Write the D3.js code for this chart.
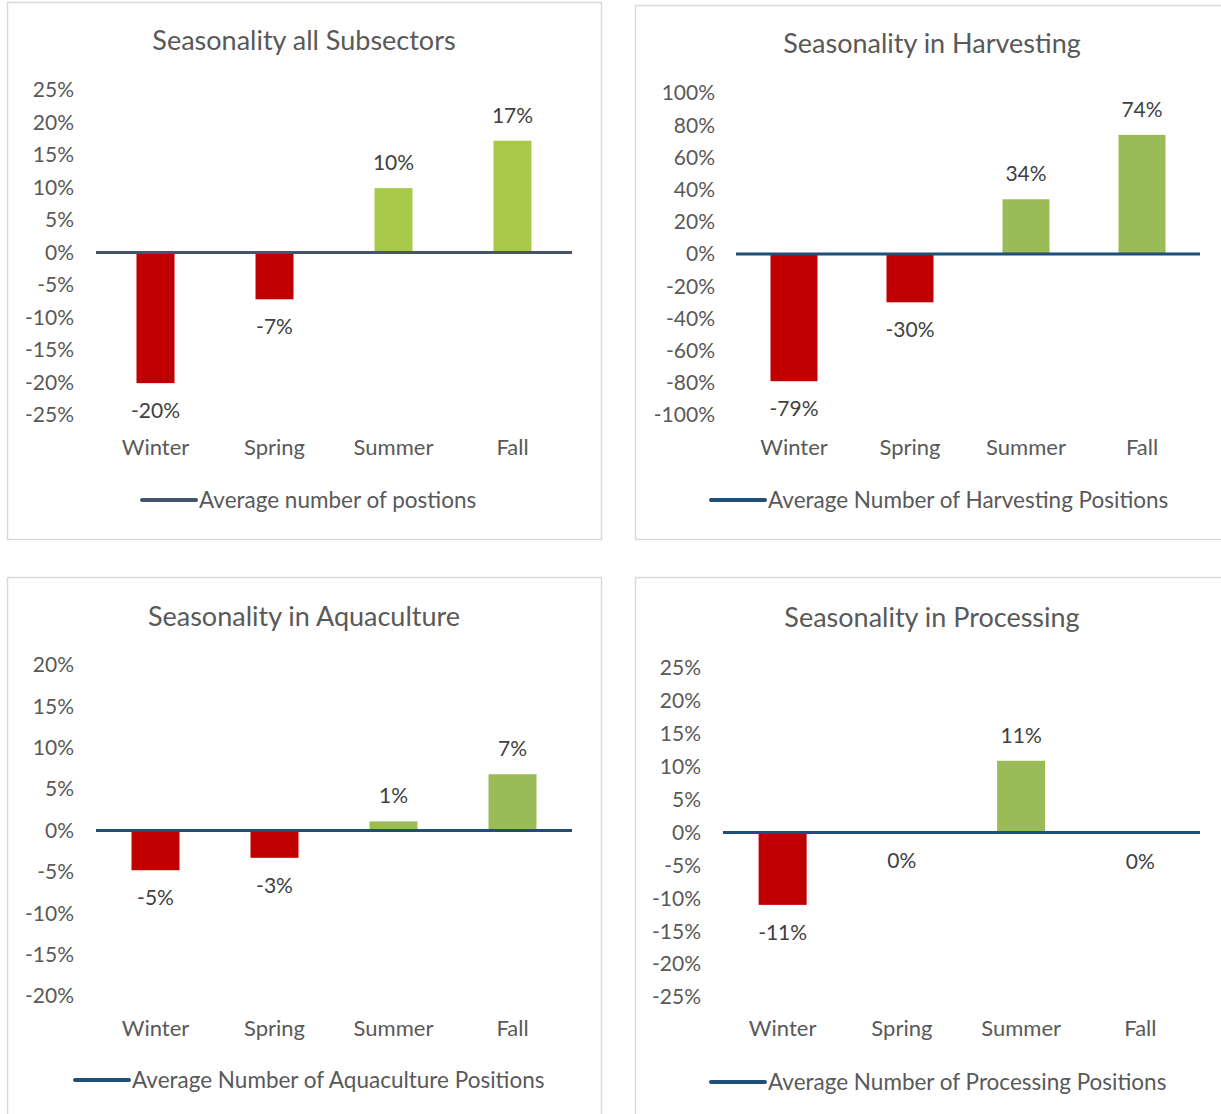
<!DOCTYPE html>
<html>
<head>
<meta charset="utf-8">
<script src="https://cdn.jsdelivr.net/npm/d3@7"></script>
<style>
  body { margin: 0; background: #fff; }
  svg { display: block; font-family: Lato, 'Open Sans', sans-serif; }
  .tick-label { fill: #595959; font-size: 21px; }
  .cat-label { fill: #595959; font-size: 22px; }
  .title { fill: #595959; font-size: 27px; }
  .value-label { fill: #404040; font-size: 21px; }
  .legend-text { fill: #595959; font-size: 22.5px; }
</style>
</head>
<body>
<div id="chart"></div>
<script>
// categories, shared by all four charts
var seasons = ['Winter', 'Spring', 'Summer', 'Fall']

// values in percent
var allValues = [-20.1, -7.2, 9.9, 17.2]
var harvestValues = [-79, -30, 34, 74]
var aquaValues = [-4.8, -3.3, 1.1, 6.8]
var procValues = [-11, -0.1, 10.9, -0.2]

// y axis ticks
var allTicks = [25, 20, 15, 10, 5, 0, -5, -10, -15, -20, -25]
var harvestTicks = [100, 80, 60, 40, 20, 0, -20, -40, -60, -80, -100]
var aquaTicks = [20, 15, 10, 5, 0, -5, -10, -15, -20]
var procTicks = [25, 20, 15, 10, 5, 0, -5, -10, -15, -20, -25]

var titles = ['Seasonality all Subsectors', 'Seasonality in Harvesting',
  'Seasonality in Aquaculture', 'Seasonality in Processing']
var legends = ['Average number of postions', 'Average Number of Harvesting Positions',
  'Average Number of Aquaculture Positions', 'Average Number of Processing Positions']

var RED = '#C00000'

var width = 1221
var height = 1114

var svg = d3.select('#chart')
  .append('svg')
  .attr('width', width)
  .attr('height', height)

// layout of each panel (absolute pixels)
var panels = [
  {
    title: titles[0], legend: legends[0], values: allValues, ticks: allTicks,
    box: [7, 2, 594, 537], titleX: 304, titleY: 50, x0: 96, x1: 572, yTop: 90, yBot: 415,
    tickX: 74, catY: 455, legY: 500, legX: 142, barW: 38,
    green: '#A9C94B', line: '#44546A'
  },
  {
    title: titles[1], legend: legends[1], values: harvestValues, ticks: harvestTicks,
    box: [635, 5, 600, 534], titleX: 932, titleY: 53, x0: 736, x1: 1200, yTop: 93, yBot: 415,
    tickX: 715, catY: 455, legY: 500, legX: 711, barW: 47,
    green: '#9BBB59', line: '#1F4E79'
  },
  {
    title: titles[2], legend: legends[2], values: aquaValues, ticks: aquaTicks,
    box: [7, 577, 594, 560], titleX: 304, titleY: 626, x0: 96, x1: 572, yTop: 665, yBot: 996,
    tickX: 74, catY: 1036, legY: 1080, legX: 75, barW: 48,
    green: '#9BBB59', line: '#1F4E79'
  },
  {
    title: titles[3], legend: legends[3], values: procValues, ticks: procTicks,
    box: [635, 577, 600, 560], titleX: 932, titleY: 627, x0: 723, x1: 1200, yTop: 668, yBot: 997,
    tickX: 701, catY: 1036, legY: 1082, legX: 711, barW: 48,
    green: '#9BBB59', line: '#1F4E79'
  }
]

panels.forEach(drawPanel)

function drawPanel(p) {
  var g = svg.append('g')

  // chart border
  g.append('rect')
    .attr('x', p.box[0] + 0.5)
    .attr('y', p.box[1] + 0.5)
    .attr('width', p.box[2])
    .attr('height', p.box[3])
    .attr('fill', '#fff')
    .attr('stroke', '#D9D9D9')
    .attr('stroke-width', 1.5)

  var x = d3.scaleBand()
    .domain(seasons)
    .range([p.x0, p.x1])

  var y = d3.scaleLinear()
    .domain([d3.max(p.ticks), d3.min(p.ticks)])
    .range([p.yTop, p.yBot])

  g.append('text')
    .attr('class', 'title')
    .attr('x', p.titleX)
    .attr('y', p.titleY)
    .attr('text-anchor', 'middle')
    .text(p.title)

  // y ticks (no axis line, labels only)
  g.selectAll('.tick-label')
    .data(p.ticks)
    .enter()
    .append('text')
    .attr('class', 'tick-label')
    .attr('x', p.tickX)
    .attr('y', function(d) { return y(d) })
    .attr('dy', '0.35em')
    .attr('text-anchor', 'end')
    .text(function(d) { return d + '%' })

  // bars
  g.selectAll('.bar')
    .data(p.values)
    .enter()
    .append('rect')
    .attr('class', 'bar')
    .attr('x', function(d, i) { return x(seasons[i]) + x.bandwidth() / 2 - p.barW / 2 })
    .attr('y', function(d) { return y(Math.max(0, d)) })
    .attr('width', p.barW)
    .attr('height', function(d) { return Math.max(1, Math.abs(y(d) - y(0))) })
    .attr('fill', function(d, i) { return i < 2 ? RED : p.green })

  // zero line (the series line)
  g.append('line')
    .attr('x1', p.x0)
    .attr('x2', p.x1)
    .attr('y1', y(0))
    .attr('y2', y(0))
    .attr('stroke', p.line)
    .attr('stroke-width', 3)

  // value labels
  g.selectAll('.value-label')
    .data(p.values)
    .enter()
    .append('text')
    .attr('class', 'value-label')
    .attr('x', function(d, i) { return x(seasons[i]) + x.bandwidth() / 2 })
    .attr('y', function(d) {
      return d >= 0 ? y(d) - 18 : y(d) + 35
    })
    .attr('text-anchor', 'middle')
    .text(function(d) { return (Math.round(d) + 0) + '%' })

  // category labels
  g.selectAll('.cat-label')
    .data(seasons)
    .enter()
    .append('text')
    .attr('class', 'cat-label')
    .attr('x', function(d) { return x(d) + x.bandwidth() / 2 })
    .attr('y', p.catY)
    .attr('text-anchor', 'middle')
    .text(function(d) { return d })

  // legend
  g.append('line')
    .attr('x1', p.legX)
    .attr('x2', p.legX + 54)
    .attr('y1', p.legY)
    .attr('y2', p.legY)
    .attr('stroke', p.line)
    .attr('stroke-width', 4)
    .attr('stroke-linecap', 'round')

  g.append('text')
    .attr('class', 'legend-text')
    .attr('x', p.legX + 57)
    .attr('y', p.legY + 8)
    .text(p.legend)
}
</script>
</body>
</html>
